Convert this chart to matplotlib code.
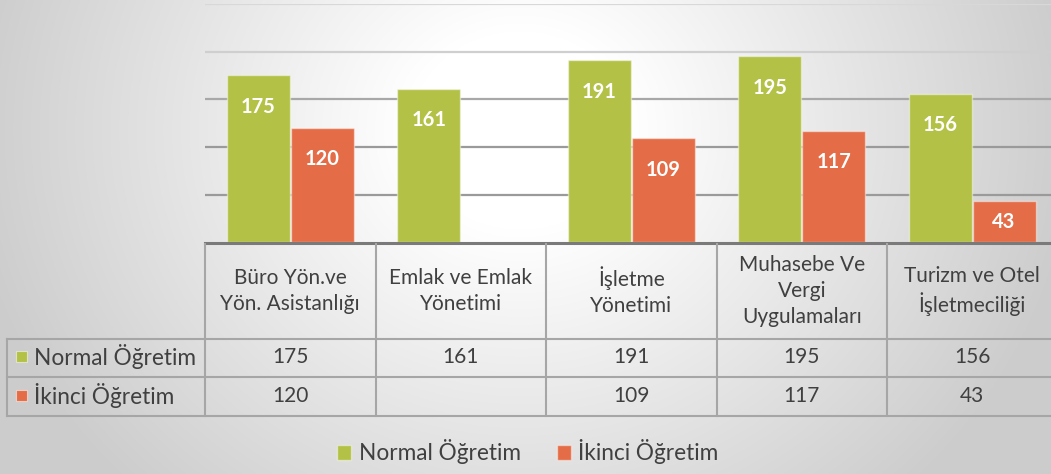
import numpy as np
import matplotlib
matplotlib.use("Agg")
import matplotlib.pyplot as plt
from matplotlib.patches import Rectangle

plt.rcParams['font.family'] = ['Lato', 'DejaVu Sans']

categories = ["Büro Yön.ve\nYön. Asistanlığı", "Emlak ve Emlak\nYönetimi", "İşletme\nYönetimi",
              "Muhasebe Ve\nVergi\nUygulamaları", "Turizm ve Otel\nİşletmeciliği"]
series_names = ["Normal Öğretim", "İkinci Öğretim"]
normal = [175, 161, 191, 195, 156]
ikinci = [120, None, 109, 117, 43]
yticks = [0, 50, 100, 150, 200, 250]

GREEN = "#B3C246"
ORANGE = "#E46C47"
TXT = "#404040"
W, H = 1051, 474

fig = plt.figure(figsize=(W / 100, H / 100), dpi=100)

# background radial gradient
bg = fig.add_axes([0, 0, 1, 1], zorder=-10)
yy, xx = np.mgrid[0:H, 0:W]
d = np.sqrt(((xx - 520) / 1.0) ** 2 + ((yy - 130) / 0.9) ** 2)
v = 1 - 0.2 * np.clip((d - 110) / 450, 0, 1)
bg.imshow(np.dstack([v, v, v]), aspect='auto', extent=[0, W, H, 0])
bg.set_axis_off()

def px(x0, y0, x1, y1):
    return [x0 / W, 1 - y1 / H, (x1 - x0) / W, (y1 - y0) / H]

ax = fig.add_axes(px(205, 4, 1057.5, 242.3))
ax.set_facecolor('none')
ax.set_xlim(-0.5, 4.5)
ax.set_ylim(0, 250)
for s in ax.spines.values():
    s.set_visible(False)
ax.set_xticks([])
ax.set_yticks([])
grid_colors = {50: "#9a9a9a", 100: "#9a9a9a", 150: "#a8a8a8", 200: "#cfcfcf", 250: "#d8d8d8"}
for t in yticks[1:]:
    ax.axhline(t, color=grid_colors[t], lw=1.6, zorder=0)

x = np.arange(len(categories))
bw = 0.37
off = 0.187
nvals = np.array(normal, dtype=float)
ivals = np.array([np.nan if v_ is None else v_ for v_ in ikinci], dtype=float)
b1 = ax.bar(x - off, nvals, bw, color=GREEN, edgecolor=(1, 1, 1, 0.45), lw=1, zorder=2, label=series_names[0])
b2 = ax.bar(x + off, np.nan_to_num(ivals), bw, color=ORANGE, edgecolor=(1, 1, 1, 0.45), lw=1, zorder=2, label=series_names[1])
for xs, vals in ((x - off, nvals), (x + off, ivals)):
    for xi, vi in zip(xs, vals):
        if np.isnan(vi):
            continue
        yl = max(vi - 33, vi / 2)
        ax.text(xi, yl, f"{int(vi)}", ha='center', va='center', color='white',
                fontsize=14.5, fontweight='bold', zorder=3)

# table axes sharing x data coordinates
tb = fig.add_axes(px(205, 242, 1057.5, 416))
tb.set_facecolor('none')
tb.set_xlim(-0.5, 4.5)
tb.set_ylim(416, 242)
tb.set_axis_off()
cw = 852.5 / 5  # px per category
left = -0.5 - (205 - 7) / cw
LC = "#a6a6a6"
tb.plot([-0.5, 4.6], [243, 243], color="#7a7a7a", lw=2.2, clip_on=False)
for xb in np.arange(-0.5, 5.0, 1.0):
    tb.plot([xb, xb], [243.5, 415.5], color=LC, lw=1.5, clip_on=False)
for yb in (339, 377, 415.5):
    tb.plot([left, 4.6], [yb, yb], color=LC, lw=1.5, clip_on=False)
tb.plot([left, left], [339, 415.5], color=LC, lw=1.5, clip_on=False)

for i, c in enumerate(categories):
    tb.text(i, 291, c, ha='center', va='center', fontsize=15, color=TXT, linespacing=1.35)
for row_y, vals in ((357, normal), (396, ikinci)):
    for i, vi in enumerate(vals):
        if vi is None:
            continue
        tb.text(i, row_y, f"{vi}", ha='center', va='center', fontsize=15, color=TXT)

for row_y, name, col in ((357, series_names[0], GREEN), (396, series_names[1], ORANGE)):
    tb.add_patch(Rectangle((left + 9 / cw, row_y - 6), 11 / cw, 11, facecolor=col,
                           edgecolor=(1, 1, 1, 0.5), lw=0.8, clip_on=False))
    tb.text(left + 27 / cw, row_y - 1, name, ha='left', va='center', fontsize=16.3, color=TXT)

fig.legend(handles=[b1, b2], labels=series_names, loc='center',
           bbox_to_anchor=(528 / W, 1 - 452 / H), ncol=2, frameon=False,
           fontsize=16.3, handlelength=0.6, handleheight=0.6, handletextpad=0.35,
           columnspacing=1.6, labelcolor=TXT)

fig.savefig("out.png", dpi=100)
